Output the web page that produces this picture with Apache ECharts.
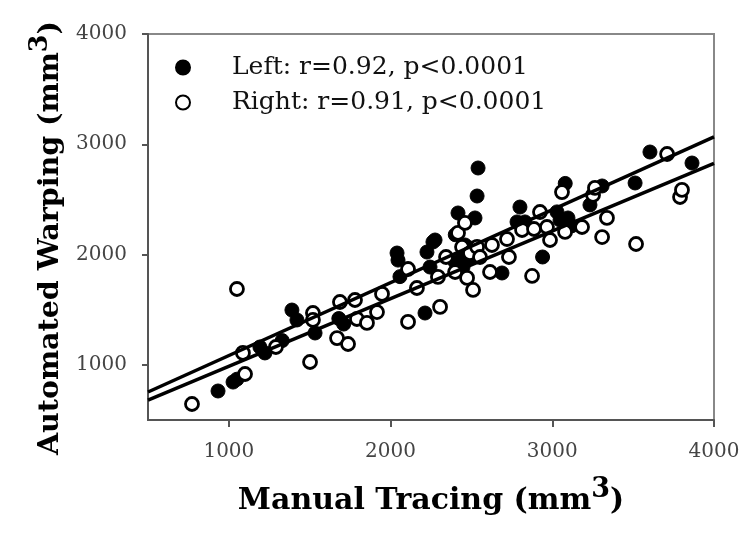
<!DOCTYPE html>
<html><head><meta charset="utf-8">
<script src="https://cdn.jsdelivr.net/npm/echarts@6/dist/echarts.min.js"></script>
<style>html,body{margin:0;padding:0;background:#fff}#c{width:756px;height:533px}</style>
</head><body><div id="c"></div>
<script>
const xTicks = [1000, 2000, 3000, 4000];
const yTicks = [1000, 2000, 3000, 4000];
const legendLabels = ['Left: r=0.92, p<0.0001', 'Right: r=0.91, p<0.0001'];
const leftPoints = [
  [933,763],[1026,844],[1050,870],[1192,1162],[1223,1108],[1330,1220],[1390,1497],[1421,1407],
  [1533,1289],[1680,1420],[1710,1370],[2040,2014],[2046,1950],[2058,1800],[2213,1470],[2225,2023],
  [2262,2114],[2244,1887],[2275,2132],[2399,1933],[2417,2377],[2448,1887],[2460,2087],[2400,2180],
  [2480,1960],[2510,2060],[2450,1990],[2522,2332],[2535,2531],[2541,2785],[2689,1833],[2782,2296],
  [2800,2431],[2831,2296],[2940,1978],[3029,2387],[3048,2313],[3080,2645],[3097,2332],[3120,2260],
  [3233,2450],[3308,2622],[3512,2649],[3604,2930],[3864,2830]
];
const rightPoints = [
  [772,645],[1050,1688],[1087,1108],[1100,917],[1291,1162],[1502,1026],[1520,1470],[1520,1407],
  [1669,1243],[1737,1189],[1687,1570],[1780,1588],[1792,1416],[1854,1380],[1916,1479],[1947,1643],
  [2108,1869],[2108,1389],[2163,1697],[2293,1797],[2306,1525],[2343,1978],[2399,1842],[2417,2196],
  [2442,2069],[2460,2287],[2473,1788],[2491,2014],[2510,1679],[2535,2069],[2553,1978],[2615,1842],
  [2627,2087],[2720,2141],[2732,1978],[2813,2223],[2875,1806],[2887,2232],[2924,2386],[2967,2250],
  [2986,2132],[3060,2567],[3079,2205],[3184,2250],[3252,2540],[3264,2604],[3308,2159],[3338,2332],
  [3518,2096],[3710,2912],[3790,2522],[3802,2586]
];
const leftFit = [[500,754],[4000,3068]];
const rightFit = [[500,681],[4000,2827]];

const FONT = 'DejaVu Serif';
const xTitleRich = {
  a: {fontFamily: FONT, fontWeight: 'bold', fontSize: 30, color: '#000', verticalAlign: 'bottom', lineHeight: 40},
  s: {fontFamily: FONT, fontWeight: 'bold', fontSize: 27, color: '#000', verticalAlign: 'top', lineHeight: 27}
};
const yTitleRich = {
  a: {fontFamily: FONT, fontWeight: 'bold', fontSize: 28.5, color: '#000', verticalAlign: 'bottom', lineHeight: 38},
  s: {fontFamily: FONT, fontWeight: 'bold', fontSize: 25.5, color: '#000', verticalAlign: 'top', lineHeight: 26}
};
const plainLabel = function (v) { return String(v); };
const axisCommon = {
  type: 'value', min: 500, max: 4000, interval: 500,
  splitLine: {show: false},
  axisLine: {show: true, lineStyle: {color: '#555', width: 2}},
  nameLocation: 'middle'
};
const chart = echarts.init(document.getElementById('c'));
chart.setOption({
  backgroundColor: '#fff',
  animation: false,
  grid: {left: 148, right: 42, top: 34, bottom: 113, show: true, borderColor: '#888', borderWidth: 2,
         containLabel: false, outerBoundsMode: 'none'},
  legend: {
    orient: 'vertical', left: 170, top: 50, itemGap: 10,
    itemWidth: 14, itemHeight: 14,
    data: ['Left', 'Right'],
    formatter: function (n) { return n === 'Left' ? legendLabels[0] : legendLabels[1]; },
    textStyle: {fontFamily: FONT, fontSize: 25, color: '#111', lineHeight: 25, padding: [0, 0, 0, 37]}
  },
  xAxis: Object.assign({}, axisCommon, {
    axisTick: {show: true, customValues: xTicks, length: 7, lineStyle: {color: '#555', width: 2}},
    axisLabel: {customValues: xTicks, formatter: plainLabel, margin: 22, fontFamily: FONT, fontSize: 20, color: '#444'},
    name: '{a|Manual Tracing (mm}{s|3}{a|)}',
    nameGap: 56,
    nameTextStyle: {rich: xTitleRich}
  }),
  yAxis: Object.assign({}, axisCommon, {
    axisTick: {show: true, customValues: yTicks, length: 6, lineStyle: {color: '#555', width: 2}},
    axisLabel: {customValues: yTicks, formatter: plainLabel, margin: 21, fontFamily: FONT, fontSize: 20, color: '#444'},
    name: '{a|Automated Warping (mm}{s|3}{a|)}',
    nameGap: 67, nameRotate: 90,
    nameTextStyle: {rich: yTitleRich, padding: [0, 22, 0, 0]}
  }),
  series: [
    {name: 'Left', type: 'scatter', data: leftPoints, symbol: 'circle', symbolSize: 14,
     itemStyle: {color: '#000', borderColor: '#000', borderWidth: 1, opacity: 1}, z: 3},
    {name: 'Right', type: 'scatter', data: rightPoints, symbol: 'circle', symbolSize: 13,
     itemStyle: {color: '#fff', borderColor: '#000', borderWidth: 2.8, opacity: 1}, z: 4},
    {name: 'LeftFit', type: 'line', data: leftFit, showSymbol: false, symbol: 'none',
     lineStyle: {color: '#000', width: 3.5}, z: 5},
    {name: 'RightFit', type: 'line', data: rightFit, showSymbol: false, symbol: 'none',
     lineStyle: {color: '#000', width: 3.5}, z: 5}
  ]
});
</script>
</body></html>
